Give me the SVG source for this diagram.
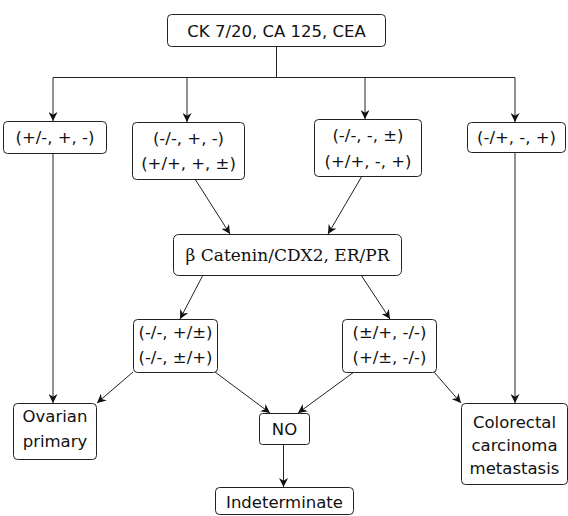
<svg xmlns="http://www.w3.org/2000/svg" width="568" height="516" viewBox="0 0 568 516">
<style>
.box{fill:#fff;stroke:#222;stroke-width:1}
.t{font-family:"DejaVu Sans",sans-serif;font-size:16.5px;fill:#111;text-anchor:middle}
.s{font-family:"DejaVu Serif",serif;font-size:17px;fill:#111;text-anchor:middle}
.c{fill:none;stroke:#222;stroke-width:1}
</style>
<defs>
<marker id="ah" viewBox="0 0 10 10" refX="10" refY="5" markerWidth="9" markerHeight="9" markerUnits="userSpaceOnUse" orient="auto">
<path d="M0,0 L10,5 L0,10 L3,5 z" fill="#111"/>
</marker>
</defs>
<g id="connectors">
<path class="c" d="M276.5,46 V77.5 M53,77.5 H515"/>
<path class="c" d="M53,77.5 V121" marker-end="url(#ah)"/>
<path class="c" d="M187,77.5 V122" marker-end="url(#ah)"/>
<path class="c" d="M365,77.5 V119" marker-end="url(#ah)"/>
<path class="c" d="M515,77.5 V122" marker-end="url(#ah)"/>
<path class="c" d="M53,153 V403" marker-end="url(#ah)"/>
<path class="c" d="M515,152 V403" marker-end="url(#ah)"/>
<path class="c" d="M195,179 L230,234" marker-end="url(#ah)"/>
<path class="c" d="M362,176 L328,234" marker-end="url(#ah)"/>
<path class="c" d="M203,275 L180,319" marker-end="url(#ah)"/>
<path class="c" d="M361,275 L390,319" marker-end="url(#ah)"/>
<path class="c" d="M133,372 L97,403" marker-end="url(#ah)"/>
<path class="c" d="M215,372 L270,413" marker-end="url(#ah)"/>
<path class="c" d="M354,372 L298,413" marker-end="url(#ah)"/>
<path class="c" d="M434,372 L461,403" marker-end="url(#ah)"/>
<path class="c" d="M283.5,444 V487" marker-end="url(#ah)"/>
</g>
<g id="n1"><rect class="box" x="167.5" y="14.5" width="218" height="32" rx="4"/><text class="t" x="276.5" y="36.5">CK 7/20, CA 125, CEA</text></g>
<g id="n2"><rect class="box" x="3.5" y="121.5" width="103" height="32" rx="4"/><text class="t" x="55" y="143">(+/-, +, -)</text></g>
<g id="n3"><rect class="box" x="132.5" y="122.5" width="112" height="57" rx="4"/><text class="t" x="188.5" y="143.5">(-/-, +, -)</text><text class="t" x="188.5" y="169">(+/+, +, ±)</text></g>
<g id="n4"><rect class="box" x="314.5" y="119.5" width="107" height="57" rx="4"/><text class="t" x="368" y="141">(-/-, -, ±)</text><text class="t" x="368" y="166.5">(+/+, -, +)</text></g>
<g id="n5"><rect class="box" x="467.5" y="122.5" width="98" height="30" rx="4"/><text class="t" x="516.5" y="143">(-/+, -, +)</text></g>
<g id="n6"><rect class="box" x="173.5" y="234.5" width="228" height="41" rx="5"/><text class="s" x="287.5" y="260.5">β Catenin/CDX2, ER/PR</text></g>
<g id="n7"><rect class="box" x="133.5" y="319.5" width="84" height="53" rx="4"/><text class="t" x="175.5" y="338">(-/-, +/±)</text><text class="t" x="175.5" y="363">(-/-, ±/+)</text></g>
<g id="n8"><rect class="box" x="342.5" y="319.5" width="94" height="53" rx="4"/><text class="t" x="389.5" y="338">(±/+, -/-)</text><text class="t" x="389.5" y="363">(+/±, -/-)</text></g>
<g id="n9"><rect class="box" x="13.5" y="403.5" width="83" height="56" rx="4"/><text class="t" x="55" y="422">Ovarian</text><text class="t" x="55" y="447">primary</text></g>
<g id="n10"><rect class="box" x="259.5" y="413.5" width="50" height="31" rx="3"/><text class="t" x="284.5" y="435">NO</text></g>
<g id="n11"><rect class="box" x="215.5" y="487.5" width="138" height="27" rx="4"/><text class="t" x="284.5" y="508">Indeterminate</text></g>
<g id="n12"><rect class="box" x="461.5" y="403.5" width="106" height="81" rx="4"/><text class="t" x="514.5" y="428">Colorectal</text><text class="t" x="514.5" y="451">carcinoma</text><text class="t" x="514.5" y="474">metastasis</text></g>
</svg>
